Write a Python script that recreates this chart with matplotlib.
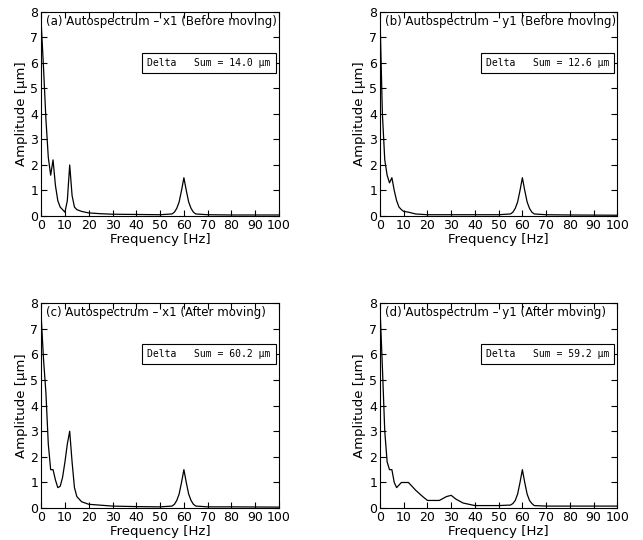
import numpy as np
import matplotlib
matplotlib.use('Agg')
import matplotlib.pyplot as plt

# Frequency grid points (Hz) and amplitudes (um)
freq_a = [0, 1, 2, 3, 4, 5, 6, 7, 8, 9, 10, 11, 12, 13, 14, 15, 17, 20, 25, 30, 40, 50,
          55, 56, 57, 58, 59, 60, 61, 62, 63, 64, 65, 70, 80, 100]
amp_a = [7.6, 5.8, 3.8, 2.3, 1.6, 2.2, 1.2, 0.6, 0.35, 0.25, 0.15, 0.6, 2.0, 0.8, 0.35, 0.25, 0.18, 0.12, 0.09, 0.07, 0.06, 0.05,
         0.08, 0.15, 0.3, 0.55, 1.0, 1.5, 1.0, 0.55, 0.3, 0.15, 0.08, 0.05, 0.04, 0.04]

freq_b = [0, 1, 2, 3, 4, 5, 6, 7, 8, 9, 10, 12, 15, 20, 30, 40, 50,
          55, 56, 57, 58, 59, 60, 61, 62, 63, 64, 65, 70, 80, 100]
amp_b = [7.8, 4.0, 2.2, 1.6, 1.3, 1.5, 1.0, 0.6, 0.35, 0.25, 0.18, 0.15, 0.08, 0.05, 0.05, 0.05, 0.05,
         0.08, 0.15, 0.3, 0.55, 1.0, 1.5, 1.0, 0.55, 0.3, 0.15, 0.08, 0.05, 0.04, 0.03]

freq_c = [0, 1, 2, 3, 4, 5, 6, 7, 8, 9, 10, 11, 12, 13, 14, 15, 17, 20, 30, 40, 50,
          55, 56, 57, 58, 59, 60, 61, 62, 63, 64, 65, 70, 80, 100]
amp_c = [7.5, 5.8, 4.5, 2.5, 1.5, 1.5, 1.1, 0.8, 0.85, 1.2, 1.8, 2.5, 3.0, 1.8, 0.8, 0.45, 0.25, 0.15, 0.08, 0.06, 0.05,
         0.08, 0.15, 0.3, 0.55, 1.0, 1.5, 1.0, 0.55, 0.3, 0.15, 0.08, 0.05, 0.05, 0.04]

freq_d = [0, 1, 2, 3, 4, 5, 6, 7, 8, 9, 10, 12, 15, 18, 20, 25, 28, 30, 32, 35, 40, 50,
          55, 56, 57, 58, 59, 60, 61, 62, 63, 64, 65, 70, 80, 100]
amp_d = [7.8, 5.5, 3.0, 1.8, 1.5, 1.5, 1.0, 0.8, 0.9, 1.0, 1.0, 1.0, 0.7, 0.45, 0.3, 0.3, 0.45, 0.5, 0.35, 0.2, 0.1, 0.1,
         0.12, 0.18, 0.3, 0.55, 1.0, 1.5, 1.0, 0.55, 0.3, 0.18, 0.1, 0.08, 0.08, 0.08]

titles = ["(a) Autospectrum \u2013 x1 (Before moving)",
          "(b) Autospectrum \u2013 y1 (Before moving)",
          "(c) Autospectrum \u2013 x1 (After moving)",
          "(d) Autospectrum \u2013 y1 (After moving)"]
sums = [14.0, 12.6, 60.2, 59.2]

fig = plt.figure(figsize=(6.43, 5.40), dpi=100)
positions = [[0.064, 0.600, 0.370, 0.378],
             [0.591, 0.600, 0.369, 0.378],
             [0.064, 0.059, 0.370, 0.380],
             [0.591, 0.059, 0.369, 0.380]]
data = [(freq_a, amp_a), (freq_b, amp_b), (freq_c, amp_c), (freq_d, amp_d)]

for pos, (f, a), title, s in zip(positions, data, titles, sums):
    ax = fig.add_axes(pos)
    ax.plot(f, a, color='black', lw=0.9)
    ax.set_xlim(0, 100)
    ax.set_ylim(0, 8)
    ax.set_xticks(np.arange(0, 101, 10))
    ax.set_yticks(np.arange(0, 9, 1))
    ax.tick_params(direction='in', top=True, right=True, labelsize=9, length=4, pad=2)
    ax.set_xlabel("Frequency [Hz]", fontsize=9.5, labelpad=1)
    ax.set_ylabel("Amplitude [\u03bcm]", fontsize=9.5, labelpad=2)
    ax.text(0.02, 0.985, title, transform=ax.transAxes, fontsize=8.5, va='top', ha='left')
    ax.text(0.965, 6.0, "Delta   Sum = %.1f \u03bcm" % s, transform=ax.get_yaxis_transform(),
            fontsize=7, family='DejaVu Sans Mono', ha='right', va='center',
            bbox=dict(boxstyle='square,pad=0.5', fc='white', ec='black', lw=0.8))

fig.savefig('out.png', dpi=100)
